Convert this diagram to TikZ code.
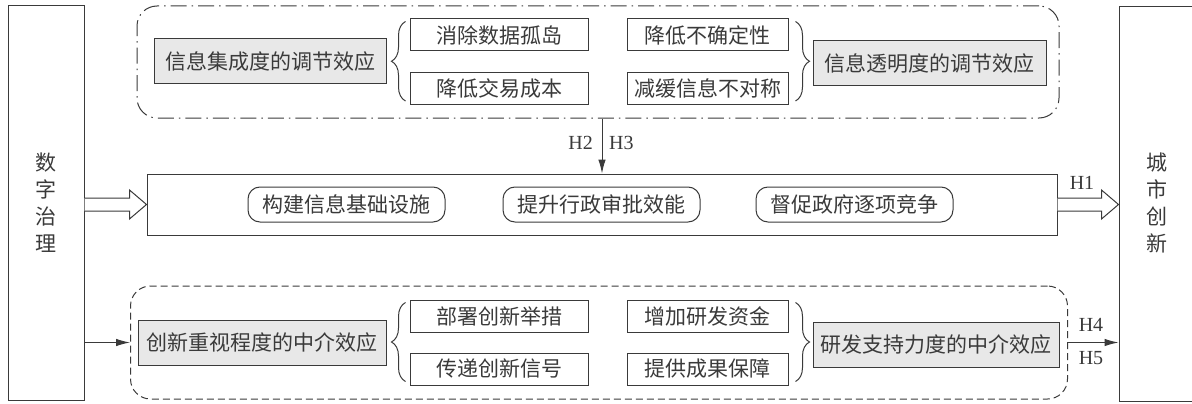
\documentclass[tikz,border=0pt]{standalone}
\usepackage{fontspec}
\setmainfont{Liberation Serif}
\newfontfamily\cjk{Noto Sans CJK SC}
\usetikzlibrary{arrows.meta,calc,decorations.pathreplacing}
\definecolor{ln}{HTML}{3A3A3A}
\definecolor{gf}{HTML}{E8E8E8}
\tikzset{
  base/.style={draw=ln, line width=1pt, inner sep=0pt, font=\cjk\fontsize{21}{24}\selectfont, text=ln},
  plainbox/.style={base, minimum width=178pt, minimum height=32pt},
  graybox/.style={base, fill=gf, minimum height=45pt},
  roundbox/.style={base, rounded corners=12pt, minimum width=197pt, minimum height=35pt},
  sidebox/.style={base, minimum width=76pt, minimum height=394pt},
  dashdotbox/.style={draw=ln, line width=1pt, rounded corners=20pt, dash pattern=on 16pt off 5pt on 1.5pt off 5pt},
  dashbox/.style={draw=ln, line width=1pt, rounded corners=20pt, dash pattern=on 7pt off 4pt},
  bracestyle/.style={draw=ln, line width=1pt, decorate, decoration={brace, amplitude=14pt}},
  fat/.style={draw=ln, line width=1pt, fill=white},
  thinarrow/.style={draw=ln, line width=1pt, -{Latex[length=14pt,width=7.5pt]}},
  hlab/.style={font=\fontsize{20}{22}\selectfont, text=ln, inner sep=0pt},
}
\begin{document}
\begin{tikzpicture}[x=1pt,y=-1pt]
\useasboundingbox (0,0) rectangle (1192,404);
\begin{scope}
\clip (0,0) rectangle (1192,404);
% side boxes
\node[sidebox] (lb) at (46,203) {};
\node[base, align=center, draw=none, font=\cjk\fontsize{21}{27}\selectfont] (lbt) at (46,203) {数\\字\\治\\理};
\node[sidebox] (rb) at (1157,204) {};
\node[base, align=center, draw=none, font=\cjk\fontsize{21}{27}\selectfont] (rbt) at (1157,203) {城\\市\\创\\新};
\end{scope}

% top dash-dot group
\node[dashdotbox, minimum width=922pt, minimum height=112pt] (top) at (598,62) {};
\node[graybox, minimum width=232pt] (g1) at (270,61) {信息集成度的调节效应};
\node[plainbox] (a1) at (499,35) {消除数据孤岛};
\node[plainbox] (a2) at (499,88.5) {降低交易成本};
\node[plainbox, minimum width=161pt] (a3) at (707.5,35) {降低不确定性};
\node[plainbox, minimum width=161pt] (a4) at (707.5,88.5) {减缓信息不对称};
\node[graybox, minimum width=233pt] (g2) at (929.5,63) {信息透明度的调节效应};
\draw[bracestyle] ($(a2.south west)+(-4,-4)$) -- ($(a1.north west)+(-4,3)$);
\draw[bracestyle] ($(a3.north east)+(7,3)$) -- ($(a4.south east)+(7,-4)$);

% middle
\node[base, minimum width=910pt, minimum height=61pt] (mid) at (602,204.5) {};
\node[roundbox] (m1) at (346.5,204.5) {构建信息基础设施};
\node[roundbox] (m2) at (601.5,204.5) {提升行政审批效能};
\node[roundbox] (m3) at (854.5,204.5) {督促政府逐项竞争};

\draw[thinarrow] (mid.north |- top.south) -- (mid.north);
\node[hlab, anchor=east] (h2) at (593,143) {H2};
\node[hlab, anchor=west] (h3) at (609,143) {H3};

% fat arrows
\draw[fat] ($(lb.east |- mid.west)+(0,6.5)$) -- ($(mid.west)+(-17,6.5)$) -- ($(mid.west)+(-17,14.5)$) -- (mid.west) -- ($(mid.west)+(-17,-14.5)$) -- ($(mid.west)+(-17,-6.5)$) -- ($(lb.east |- mid.west)+(0,-6.5)$);
\draw[fat] ($(mid.east)+(0,6.5)$) -- ($(rb.west |- mid.east)+(-17,6.5)$) -- ($(rb.west |- mid.east)+(-17,14.5)$) -- (rb.west |- mid.east) -- ($(rb.west |- mid.east)+(-17,-14.5)$) -- ($(rb.west |- mid.east)+(-17,-6.5)$) -- ($(mid.east)+(0,-6.5)$);
\node[hlab] (h1) at (1082,183) {H1};

% bottom dashed group
\node[dashbox, minimum width=937pt, minimum height=113pt] (bot) at (599,342.5) {};
\node[graybox, minimum width=248pt] (g3) at (262,343) {创新重视程度的中介效应};
\node[plainbox] (b1) at (499,316) {部署创新举措};
\node[plainbox] (b2) at (499,369) {传递创新信号};
\node[plainbox, minimum width=161pt] (b3) at (707.5,316) {增加研发资金};
\node[plainbox, minimum width=161pt] (b4) at (707.5,369) {提供成果保障};
\node[graybox, minimum width=246pt] (g4) at (936,344.5) {研发支持力度的中介效应};
\draw[bracestyle] ($(b2.south west)+(-4,-4)$) -- ($(b1.north west)+(-4,3)$);
\draw[bracestyle] ($(b3.north east)+(7,3)$) -- ($(b4.south east)+(7,-4)$);

\draw[thinarrow] (lb.east |- bot.west) -- (bot.west);
\draw[thinarrow] (bot.east) -- (rb.west |- bot.east);
\node[hlab] (h4) at (1091,325) {H4};
\node[hlab] (h5) at (1091,358) {H5};
\end{tikzpicture}
\end{document}
